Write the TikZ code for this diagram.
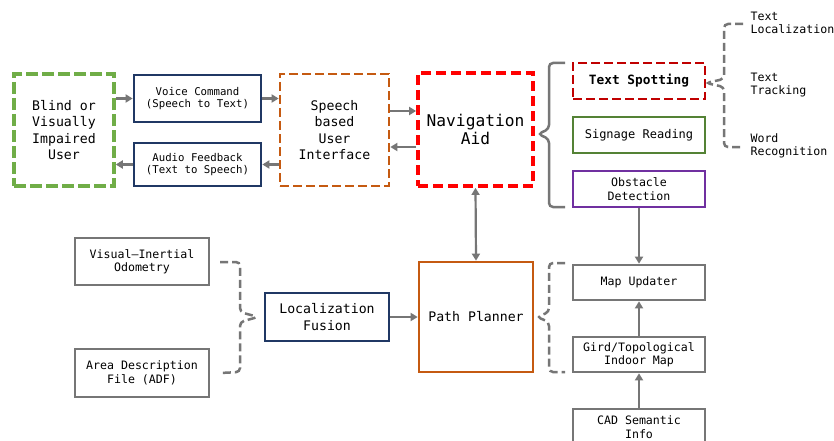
\documentclass[tikz,border=0pt]{standalone}
\usepackage{fontspec}
\setmainfont{DejaVu Sans Mono}
\usepackage{tikz}
\usetikzlibrary{arrows.meta}

\definecolor{usergreen}{RGB}{112,173,71}
\definecolor{navy}{RGB}{32,56,100}
\definecolor{uiorange}{RGB}{197,90,17}
\definecolor{navred}{RGB}{255,0,0}
\definecolor{spotred}{RGB}{192,0,0}
\definecolor{signgreen}{RGB}{84,130,53}
\definecolor{obstpurple}{RGB}{112,48,160}
\definecolor{linegray}{RGB}{118,118,118}

\tikzset{
  blk/.style={draw, line width=2.7pt, align=center, inner sep=2pt},
  dblk/.style={blk, dash pattern=on 9pt off 4pt},
  arr/.style={draw=linegray, line width=2.2pt, -{Triangle[length=7pt,width=8pt]}},
  brc/.style={draw=linegray, line width=2.5pt, rounded corners=4pt},
  dbrc/.style={brc, dash pattern=on 8pt off 4pt},
  smallfont/.style={font=\fontsize{10.7}{12.7}\selectfont},
  midfont/.style={font=\fontsize{11.6}{13.4}\selectfont},
  bigfont/.style={font=\fontsize{13.2}{16.6}\selectfont}
}

\begin{document}
\begin{tikzpicture}[x=1pt,y=-1pt]
	\clip (0,0) rectangle (834,441);
	\fill[white] (0,0) rectangle (834,441);
	% user side
	\node[dblk, draw=usergreen, line width=3.5pt, dash pattern=on 12pt off 4pt, bigfont,
	      minimum width=100pt, minimum height=112pt] (user) at (64,130) {Blind or\\Visually\\Impaired\\User};
	\node[blk, draw=navy, smallfont, minimum width=127pt, minimum height=47pt] (voice) at (197.5,98.5) {Voice Command\\(Speech to Text)};
	\node[blk, draw=navy, smallfont, minimum width=127pt, minimum height=43pt] (audio) at (197.5,164.5) {Audio Feedback\\(Text to Speech)};
	\node[dblk, draw=uiorange, bigfont, minimum width=109pt, minimum height=112pt] (sui) at (334.5,130) {Speech\\based\\User\\Interface};
	% navigation aid
	\node[dblk, draw=navred, line width=3.8pt, dash pattern=on 10pt off 5pt,
	      font=\fontsize{16.2}{18.6}\selectfont, minimum width=115pt, minimum height=113pt] (nav) at (475.5,129.5) {Navigation\\Aid};
	% vision modules
	\node[dblk, draw=spotred, font=\fontsize{12.8}{15}\selectfont\bfseries, minimum width=132pt, minimum height=36pt] (spot) at (639,81) {Text Spotting};
	\node[blk, draw=signgreen, font=\fontsize{12}{14}\selectfont, minimum width=132pt, minimum height=36pt] (sign) at (639,135) {Signage Reading};
	\node[blk, draw=obstpurple, midfont, minimum width=132pt, minimum height=36pt] (obst) at (639,189) {Obstacle\\Detection};
	% text spotting steps
	\node[midfont, align=left, anchor=west] (loc) at (747,23) {Text\\Localization};
	\node[midfont, align=left, anchor=west] (track) at (747,85) {Text\\Tracking};
	\node[midfont, align=left, anchor=west] (word) at (747,146) {Word\\Recognition};
	% path planning
	\node[blk, draw=uiorange, bigfont, minimum width=114pt, minimum height=110pt] (planner) at (476,317) {Path Planner};
	\node[blk, draw=navy, bigfont, minimum width=124pt, minimum height=48pt] (fusion) at (327,317) {Localization\\Fusion};
	\node[blk, draw=linegray, midfont, minimum width=134pt, minimum height=47pt] (vio) at (142,261.5) {Visual–Inertial\\Odometry};
	\node[blk, draw=linegray, midfont, minimum width=134pt, minimum height=48pt] (adf) at (142,373) {Area Description\\File (ADF)};
	% map modules
	\node[blk, draw=linegray, midfont, minimum width=132pt, minimum height=35pt] (updater) at (639,282.5) {Map Updater};
	\node[blk, draw=linegray, midfont, minimum width=132pt, minimum height=35pt] (gridmap) at (639,354.5) {Gird/Topological\\Indoor Map};
	\node[blk, draw=linegray, midfont, minimum width=132pt, minimum height=36pt] (cad) at (639,427) {CAD Semantic\\Info};
	% arrows
	\draw[arr] (user.east |- voice) -- (voice.west);
	\draw[arr] (voice.east) -- (sui.west |- voice);
	\draw[arr] (sui.west |- audio) -- (audio.east);
	\draw[arr] (audio.west) -- (user.east |- audio);
	\draw[arr] ([yshift=19pt]sui.east) -- ([yshift=19pt]sui.east -| nav.west);
	\draw[arr] ([yshift=-17pt]sui.east -| nav.west) -- ([yshift=-17pt]sui.east);
	\draw[arr, {Triangle[length=7pt,width=8pt]}-{Triangle[length=7pt,width=8pt]}] (nav.south) -- (planner.north);
	\draw[arr] (fusion.east) -- (planner.west);
	\draw[arr] (obst.south) -- (updater.north);
	\draw[arr] (gridmap.north) -- (updater.south);
	\draw[arr] (cad.north) -- (gridmap.south);
	% brace round vision modules
	\draw[brc] (565,63) -- (549,63) -- (549,129) -- (538,134) -- (549,139) -- (549,207) -- (565,207);
	% text spotting steps brace
	\draw[dbrc] (743,24) -- (724,24) -- (724,79) -- (706,83) -- (724,87) -- (724,147) -- (743,147);
	% map brace
	\draw[dbrc] (565,263) -- (549,263) -- (549,312) -- (537,317) -- (549,322) -- (549,372) -- (565,372);
	% localization inputs brace
	\draw[dbrc] (220,262) -- (240,262) -- (240,312) -- (258,317) -- (240,322) -- (240,372) -- (220,373);
\end{tikzpicture}
\end{document}
